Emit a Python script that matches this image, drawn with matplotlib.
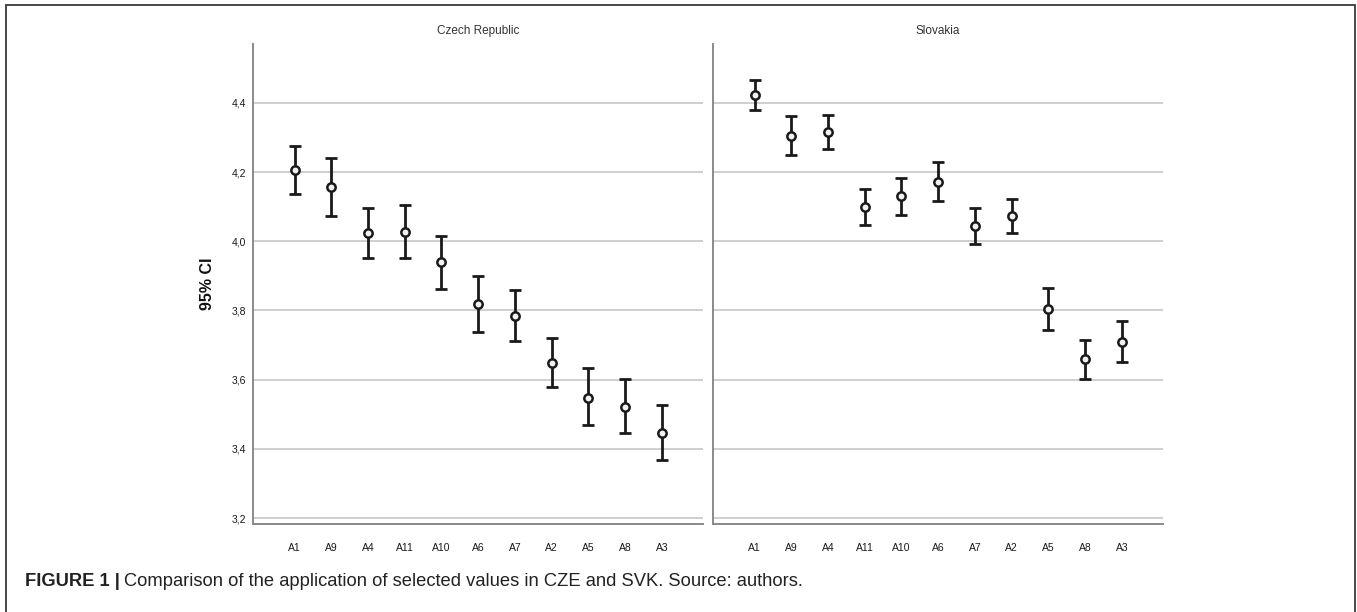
"""Mean values with 95% CI for selected values, CZE vs SVK."""

import matplotlib

matplotlib.use("Agg")

import matplotlib.pyplot as plt
from matplotlib.patches import Rectangle

plt.rcParams["font.family"] = ["Liberation Sans", "DejaVu Sans"]

items = ["A1", "A9", "A4", "A11", "A10", "A6", "A7", "A2", "A5", "A8", "A3"]

cze_mean = [4.206, 4.156, 4.023, 4.026, 3.939, 3.819, 3.784, 3.649, 3.548, 3.522, 3.446]
cze_low = [4.138, 4.073, 3.951, 3.951, 3.863, 3.739, 3.712, 3.579, 3.468, 3.445, 3.367]
cze_high = [4.276, 4.242, 4.096, 4.104, 4.016, 3.901, 3.860, 3.720, 3.633, 3.601, 3.527]

svk_mean = [4.424, 4.304, 4.317, 4.099, 4.130, 4.172, 4.045, 4.073, 3.803, 3.660, 3.709]
svk_low = [4.379, 4.248, 4.268, 4.048, 4.076, 4.117, 3.992, 4.023, 3.743, 3.603, 3.651]
svk_high = [4.466, 4.361, 4.366, 4.151, 4.184, 4.230, 4.097, 4.123, 3.864, 3.716, 3.769]

y_ticks = [3.2, 3.4, 3.6, 3.8, 4.0, 4.2, 4.4]
panels = [
    ("Czech Republic", cze_mean, cze_low, cze_high),
    ("Slovakia", svk_mean, svk_low, svk_high),
]

W, H = 1357, 612
fig = plt.figure(figsize=(W / 100, H / 100), dpi=100)
fig.patch.set_facecolor("white")

# outer frame of the figure box (open at the bottom, cropped)
fig.patches.append(
    Rectangle((6 / W, -0.1), 1349 / W, 1.1 - 5 / H, transform=fig.transFigure,
              fill=False, edgecolor="#3a3a3a", linewidth=1.3, clip_on=False)
)

axes_left = [253, 713]
for i, (title, mean, low, high) in enumerate(panels):
    ax = fig.add_axes([axes_left[i] / W, 1 - 524 / H, 450 / W, 480 / H])
    x = list(range(len(items)))
    err = [[m - lo for m, lo in zip(mean, low)], [hi - m for m, hi in zip(mean, high)]]
    ax.errorbar(x, mean, yerr=err, fmt="none", ecolor="#1a1a1a", elinewidth=2.0,
                capsize=4, capthick=2.0, zorder=3)
    ax.plot(x, mean, "o", markersize=6, markerfacecolor="#f2f2f2",
            markeredgecolor="#1a1a1a", markeredgewidth=1.8, zorder=4)

    ax.set_xlim(-1.13, 11.12)
    ax.set_ylim(3.183, 4.57)
    ax.set_yticks(y_ticks)
    for t in y_ticks:
        ax.axhline(t, color="#cfcfcf", linewidth=1.4, zorder=1)

    ax.set_xticks(x)
    ax.set_xticklabels(items, fontsize=7.5, color="#1a1a1a")
    if i == 0:
        ax.set_yticklabels([f"{t:.1f}".replace(".", ",") for t in y_ticks],
                           fontsize=7.5, color="#1a1a1a")
        ax.set_ylabel("95% CI", fontsize=11.5, fontweight="bold", color="#111111")
        ax.yaxis.set_label_coords(-0.085, 0.5)
    else:
        ax.set_yticklabels([])

    ax.tick_params(length=0, pad=5)
    ax.tick_params(axis="x", pad=14)
    for side in ("top", "right"):
        ax.spines[side].set_visible(False)
    for side in ("left", "bottom"):
        ax.spines[side].set_color("#8a8a8a")
        ax.spines[side].set_linewidth(1.4)

    ax.set_title(title, fontsize=8.5, color="#333333", pad=7)

# caption: bold figure tag followed by regular text
cap_y = 1 - 582 / H
tag = fig.text(25 / W, cap_y, "FIGURE 1 |", fontsize=13.2, fontweight="bold",
               va="center", ha="left", color="#222222")
fig.canvas.draw()
bbox = tag.get_window_extent(renderer=fig.canvas.get_renderer())
fig.text(bbox.x1 / W + 4 / W, cap_y,
         "Comparison of the application of selected values in CZE and SVK. Source: authors.",
         fontsize=13.2, va="center", ha="left", color="#222222")

fig.savefig("out.png", dpi=100)
plt.close(fig)
